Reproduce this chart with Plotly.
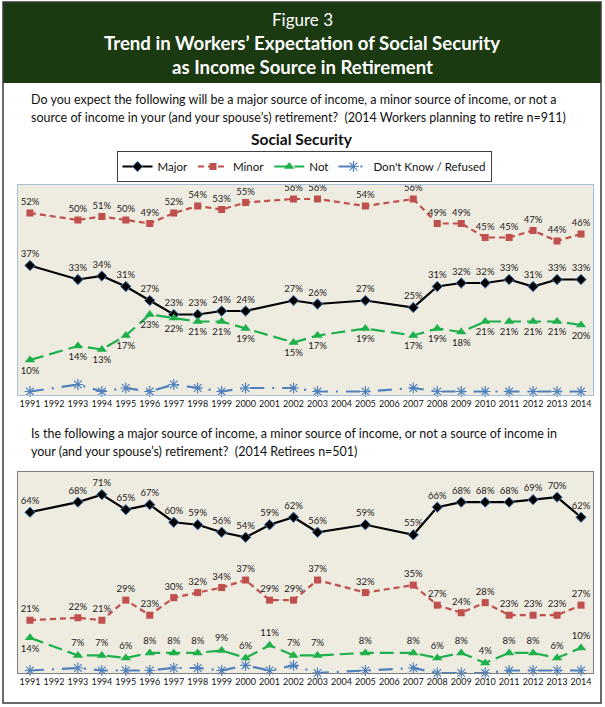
import plotly.graph_objects as go

# ---------------- data ----------------
years_workers = [1991, 1993, 1994, 1995, 1996, 1997, 1998, 1999, 2000, 2002, 2003,
                 2005, 2007, 2008, 2009, 2010, 2011, 2012, 2013, 2014]
workers_major = [37, 33, 34, 31, 27, 23, 23, 24, 24, 27, 26, 27, 25, 31, 32, 32, 33, 31, 33, 33]
workers_minor = [52, 50, 51, 50, 49, 52, 54, 53, 55, 56, 56, 54, 56, 49, 49, 45, 45, 47, 44, 46]
workers_not = [10, 14, 13, 17, 23, 22, 21, 21, 19, 15, 17, 19, 17, 19, 18, 21, 21, 21, 21, 20]
workers_dk = [1, 3, 1, 2, 1, 3, 2, 1, 2, 2, 1, 1, 2, 1, 1, 1, 1, 1, 1, 1]

years_retirees = [1991, 1993, 1994, 1995, 1996, 1997, 1998, 1999, 2000, 2001, 2002, 2003,
                  2005, 2007, 2008, 2009, 2010, 2011, 2012, 2013, 2014]
retirees_major = [64, 68, 71, 65, 67, 60, 59, 56, 54, 59, 62, 56, 59, 55, 66, 68, 68, 68, 69, 70, 62]
retirees_minor = [21, 22, 21, 29, 23, 30, 32, 34, 37, 29, 29, 37, 32, 35, 27, 24, 28, 23, 23, 23, 27]
retirees_not = [14, 7, 7, 6, 8, 8, 8, 9, 6, 11, 7, 7, 8, 8, 6, 8, 4, 8, 8, 6, 10]
retirees_dk = [1, 2, 1, 1, 1, 2, 2, 1, 3, 1, 3, 0, 1, 2, 0, 0, 0, 1, 1, 1, 1]

tick_years = list(range(1991, 2015))
series_names = ["Major", "Minor", "Not", "Don't Know / Refused"]

# ---------------- styling ----------------
W, H = 605, 707
FONT = "Lato, 'Open Sans', sans-serif"
C_MAJOR, C_MINOR, C_NOT, C_DK = "#000000", "#C0504D", "#1DB04B", "#4F81BD"
BG = "#EEEBE0"


def py(px):
    return 1 - px / H


def px_x(px):
    return px / W


fig = go.Figure()


def add_panel(years, major, minor, notv, dk, xa, ya, showlegend, not_pos):
    pct = lambda v: [f"{x}%" for x in v]
    lab_font = dict(family=FONT, size=9.5, color="#222222")
    fig.add_trace(go.Scatter(
        x=years, y=major, name=series_names[0], mode="lines+markers+text",
        text=pct(major), textposition="top center", textfont=lab_font,
        line=dict(color=C_MAJOR, width=2.2),
        marker=dict(symbol="diamond", size=8, color="#000000", line=dict(color="#4F81BD", width=1)),
        xaxis=xa, yaxis=ya, showlegend=showlegend, legendgroup="a", cliponaxis=False))
    fig.add_trace(go.Scatter(
        x=years, y=minor, name=series_names[1], mode="lines+markers+text",
        text=pct(minor), textposition="top center", textfont=lab_font,
        line=dict(color=C_MINOR, width=2.2, dash="6px,4px"),
        marker=dict(symbol="square", size=7, color=C_MINOR),
        xaxis=xa, yaxis=ya, showlegend=showlegend, legendgroup="b", cliponaxis=False))
    fig.add_trace(go.Scatter(
        x=years, y=notv, name=series_names[2], mode="lines+markers+text",
        text=pct(notv), textposition=not_pos, textfont=lab_font,
        line=dict(color=C_NOT, width=2.2, dash="14px,6px"),
        marker=dict(symbol="triangle-up", size=9, color=C_NOT),
        xaxis=xa, yaxis=ya, showlegend=showlegend, legendgroup="c", cliponaxis=False))
    fig.add_trace(go.Scatter(
        x=years, y=dk, name=series_names[3], mode="lines+markers",
        line=dict(color=C_DK, width=2.2, dash="14px,8px,2px,8px"),
        marker=dict(symbol="asterisk-open", size=9, color=C_DK, line=dict(color=C_DK, width=1.2)),
        xaxis=xa, yaxis=ya, showlegend=showlegend, legendgroup="d", cliponaxis=False))


add_panel(years_workers, workers_major, workers_minor, workers_not, workers_dk,
          "x", "y", True, "bottom center")
not_pos_ret = ["bottom center"] + ["top center"] * (len(years_retirees) - 1)
add_panel(years_retirees, retirees_major, retirees_minor, retirees_not, retirees_dk,
          "x2", "y2", False, not_pos_ret)

xdom = [px_x(18), px_x(593)]
tickfont = dict(family=FONT, size=9, color="#111111")
common_x = dict(range=[1990.5, 2014.5], tickmode="array", tickvals=tick_years,
                ticktext=[str(t) for t in tick_years], showgrid=False, zeroline=False,
                tickfont=tickfont, ticks="", tickangle=0, fixedrange=True)
common_y = dict(showgrid=False, zeroline=False, showticklabels=False, ticks="", fixedrange=True)

fig.update_layout(
    width=W, height=H, margin=dict(l=0, r=0, t=0, b=0),
    paper_bgcolor="white", plot_bgcolor=BG,
    xaxis=dict(domain=xdom, anchor="y", showline=True, mirror=True, linecolor="#A9BED8",
               linewidth=1, **common_x),
    yaxis=dict(domain=[py(395), py(185)], anchor="x", range=[0, 60], showline=True,
               mirror=True, linecolor="#A9BED8", linewidth=1, **common_y),
    xaxis2=dict(domain=xdom, anchor="y2", showline=True, mirror=True, linecolor="#7F7F7F",
                linewidth=1, **common_x),
    yaxis2=dict(domain=[py(673), py(472)], anchor="x2", range=[0, 80], showline=True,
                mirror=True, linecolor="#7F7F7F", linewidth=1, **common_y),
    legend=dict(orientation="h", x=px_x(304), xanchor="center", y=py(151), yanchor="top",
                bordercolor="#404040", borderwidth=1, bgcolor="white",
                font=dict(family=FONT, size=11.5, color="#111111"),
                itemwidth=30, traceorder="normal", tracegroupgap=0),
    showlegend=True,
)

# header and frame
fig.add_shape(type="rect", xref="paper", yref="paper", x0=px_x(3), x1=px_x(601),
              y0=py(83), y1=py(2), fillcolor="#1B3A12", line=dict(color="#1B3A12", width=0),
              layer="below")
fig.add_shape(type="rect", xref="paper", yref="paper", x0=px_x(3), x1=px_x(601),
              y0=py(703), y1=py(2), fillcolor="rgba(0,0,0,0)", line=dict(color="#3A3A3A", width=1.5))

anns = [
    dict(text="Figure 3", y=20, size=17, color="white"),
    dict(text="<b>Trend in Workers’ Expectation of Social Security</b>", y=43, size=18.6, color="white"),
    dict(text="<b>as Income Source in Retirement</b>", y=67, size=18.6, color="white"),
    dict(text="<b>Social Security</b>", y=139, size=15.5, color="#111111"),
]
for a in anns:
    fig.add_annotation(text=a["text"], xref="paper", yref="paper", x=px_x(302), y=py(a["y"]),
                       xanchor="center", yanchor="middle", showarrow=False,
                       font=dict(family=FONT, size=a["size"], color=a["color"]))

questions = [
    ("Do you expect the following will be a major source of income, a minor source of income, or not a", 99),
    ("source of income in your (and your spouse’s) retirement?  (2014 Workers planning to retire n=911)", 117),
    ("Is the following a major source of income, a minor source of income, or not a source of income in", 433),
    ("your (and your spouse’s) retirement?  (2014 Retirees n=501)", 451),
]
for t, yy in questions:
    fig.add_annotation(text=t, xref="paper", yref="paper", x=px_x(29), y=py(yy),
                       xanchor="left", yanchor="middle", showarrow=False,
                       font=dict(family=FONT, size=12.5, color="#111111"))

fig.write_html("out.html", post_script="document.body.style.margin='0px';",
               config={"displayModeBar": False})
